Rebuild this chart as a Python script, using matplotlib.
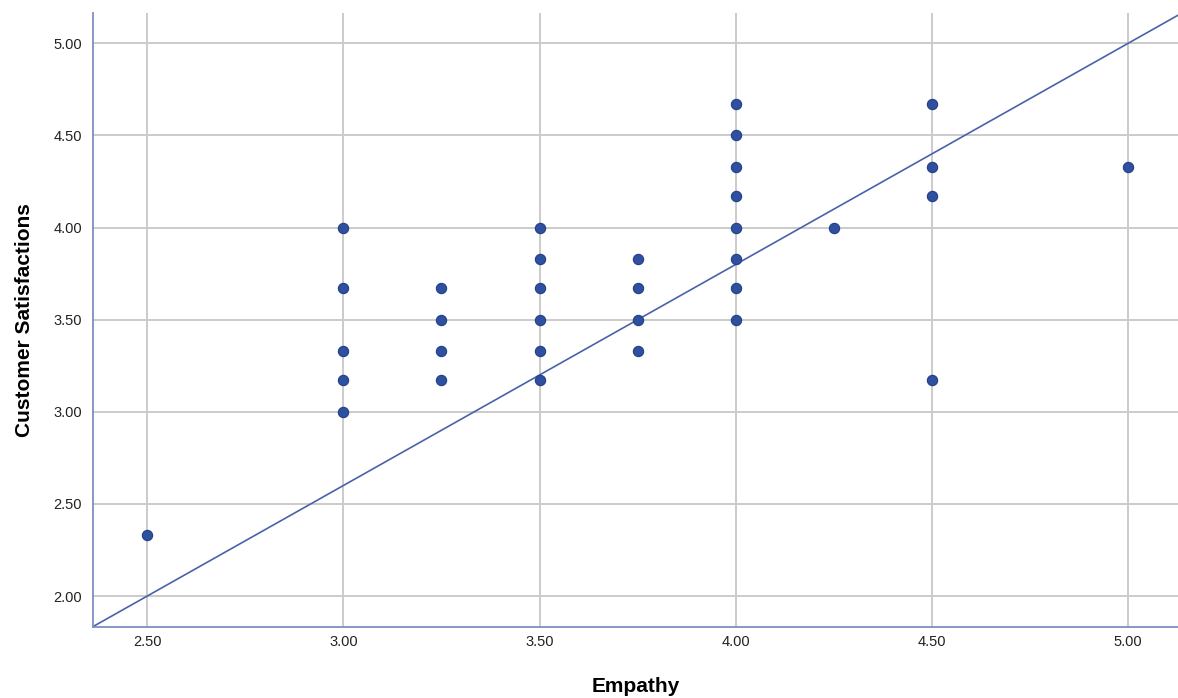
import matplotlib
matplotlib.use("Agg")
import matplotlib.pyplot as plt
import numpy as np

plt.rcParams['font.family'] = ['Liberation Sans', 'DejaVu Sans']

# Empathy (x) vs Customer Satisfactions (y)
empathy = [2.50,
           3.00, 3.00, 3.00, 3.00, 3.00,
           3.25, 3.25, 3.25, 3.25,
           3.50, 3.50, 3.50, 3.50, 3.50, 3.50,
           3.75, 3.75, 3.75, 3.75,
           4.00, 4.00, 4.00, 4.00, 4.00, 4.00, 4.00, 4.00,
           4.25,
           4.50, 4.50, 4.50, 4.50,
           5.00]
satisfaction = [2.33,
                4.00, 3.67, 3.33, 3.17, 3.00,
                3.67, 3.50, 3.33, 3.17,
                4.00, 3.83, 3.67, 3.50, 3.33, 3.17,
                3.83, 3.67, 3.50, 3.33,
                4.67, 4.50, 4.33, 4.17, 4.00, 3.83, 3.67, 3.50,
                4.00,
                4.67, 4.33, 4.17, 3.17,
                4.33]

# fit line
fit_intercept = -1.0
fit_slope = 1.2

x_ticks = [2.5, 3.0, 3.5, 4.0, 4.5, 5.0]
y_ticks = [2.0, 2.5, 3.0, 3.5, 4.0, 4.5, 5.0]

fig = plt.figure(figsize=(11.78, 6.98), dpi=100)
ax = fig.add_axes([0.079, 0.1017, 0.921, 0.8793])

ax.set_xlim(2.362, 5.127)
ax.set_ylim(1.832, 5.163)
ax.set_xticks(x_ticks)
ax.set_yticks(y_ticks)
ax.set_xticklabels(["%.2f" % v for v in x_ticks], fontsize=10.5, color='#222222')
ax.set_yticklabels(["%.2f" % v for v in y_ticks], fontsize=10.5, color='#222222')
ax.tick_params(length=0)
ax.tick_params(axis='x', pad=6)
ax.tick_params(axis='y', pad=8)

ax.grid(True, color='#cbcbcb', linewidth=1.4, zorder=0)
ax.set_axisbelow(True)

for s in ['top', 'right']:
    ax.spines[s].set_visible(False)
for s in ['left', 'bottom']:
    ax.spines[s].set_color('#7f8fc0')
    ax.spines[s].set_linewidth(1.3)

xs = np.array(ax.get_xlim())
ax.plot(xs, fit_intercept + fit_slope * xs, color='#4a62a8', linewidth=1.2, zorder=2)

ax.scatter(empathy, satisfaction, s=55, color='#2f4f9f', edgecolors='#223f88',
           linewidths=0.8, zorder=3)

ax.set_xlabel("Empathy", fontsize=15, fontweight='bold', labelpad=20)
ax.set_ylabel("Customer Satisfactions", fontsize=15, fontweight='bold', labelpad=14)

fig.savefig("out.png", dpi=100)
